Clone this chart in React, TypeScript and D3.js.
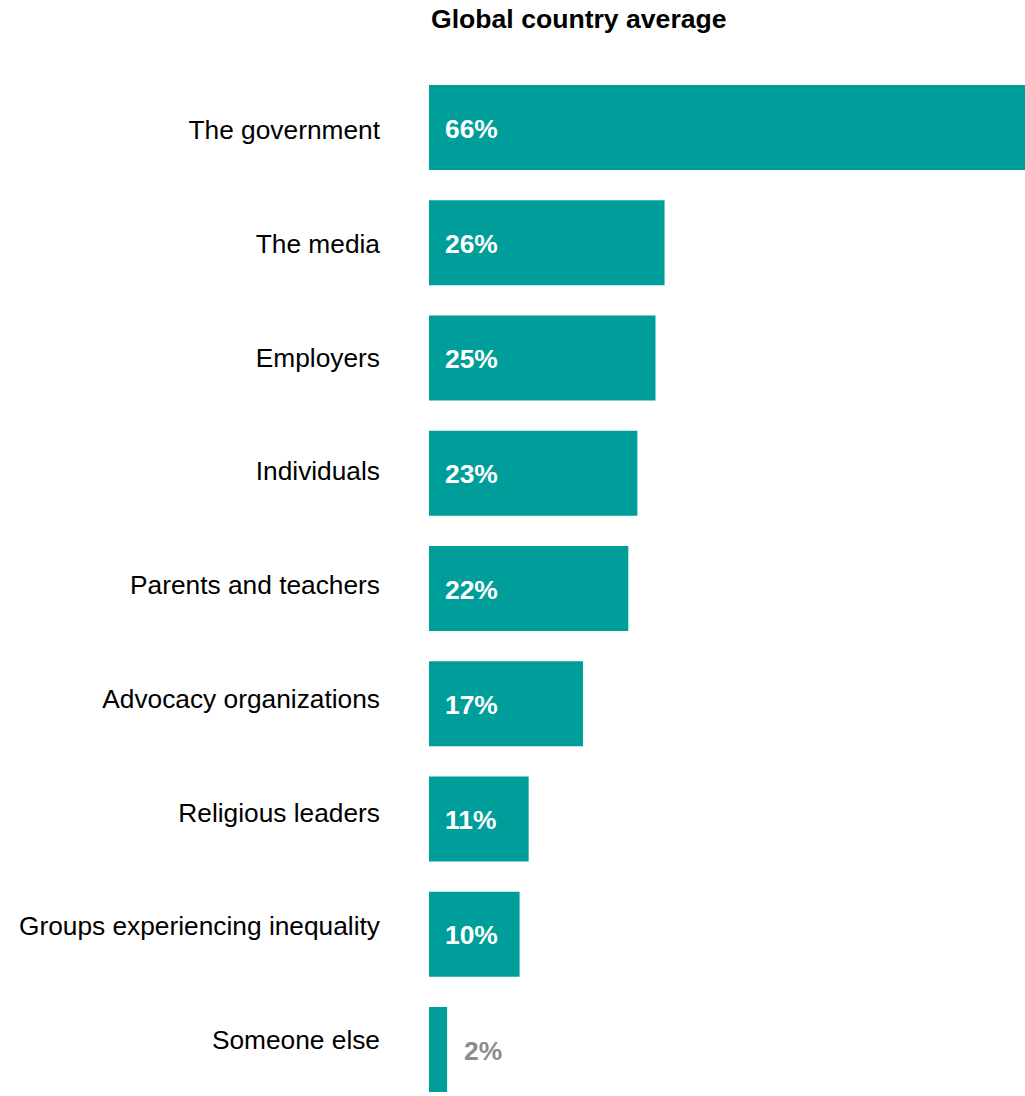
import React from "react";
import * as d3 from "d3";

const categories: string[] = [
  "The government",
  "The media",
  "Employers",
  "Individuals",
  "Parents and teachers",
  "Advocacy organizations",
  "Religious leaders",
  "Groups experiencing inequality",
  "Someone else",
];
const values: number[] = [66, 26, 25, 23, 22, 17, 11, 10, 2];
const title = "Global country average";

const W = 1025;
const H = 1096;
const TEAL = "#009E9A";
const FONT = "'Liberation Sans', Arial, Helvetica, sans-serif";

export default function App() {
  const x = d3.scaleLinear().domain([0, 100]).range([429, 429 + 906]);
  const y = d3
    .scaleBand<string>()
    .domain(categories)
    .range([85, 1092])
    .paddingInner(0.2625)
    .paddingOuter(0);
  const yLabel = d3.scalePoint<string>().domain(categories).range([130, 1040]);
  const fmt = (v: number) => `${d3.format("d")(v)}%`;

  return (
    <svg
      width={W}
      height={H}
      style={{ position: "absolute", left: 0, top: 0, background: "#fff" }}
      fontFamily={FONT}
    >
      <rect x={0} y={0} width={W} height={H} fill="#fff" />
      <text x={431} y={28} fontSize={26.6} fontWeight="bold" fill="#000">
        {title}
      </text>
      {categories.map((c, i) => {
        const v = values[i];
        const by = y(c) as number;
        const bh = y.bandwidth();
        const bw = x(v) - x(0);
        const inside = bw > 60;
        return (
          <g key={c}>
            <text
              x={380}
              y={yLabel(c) as number}
              dy="0.35em"
              textAnchor="end"
              fontSize={26.3}
              fill="#000"
            >
              {c}
            </text>
            <rect x={x(0)} y={by} width={bw} height={bh} fill={TEAL} />
            <text
              x={inside ? x(0) + 16 : x(v) + 17}
              y={by + bh / 2 + 1}
              dy="0.35em"
              fontSize={26.4}
              fontWeight="bold"
              fill={inside ? "#fff" : "#8C8C8C"}
            >
              {fmt(v)}
            </text>
          </g>
        );
      })}
    </svg>
  );
}
